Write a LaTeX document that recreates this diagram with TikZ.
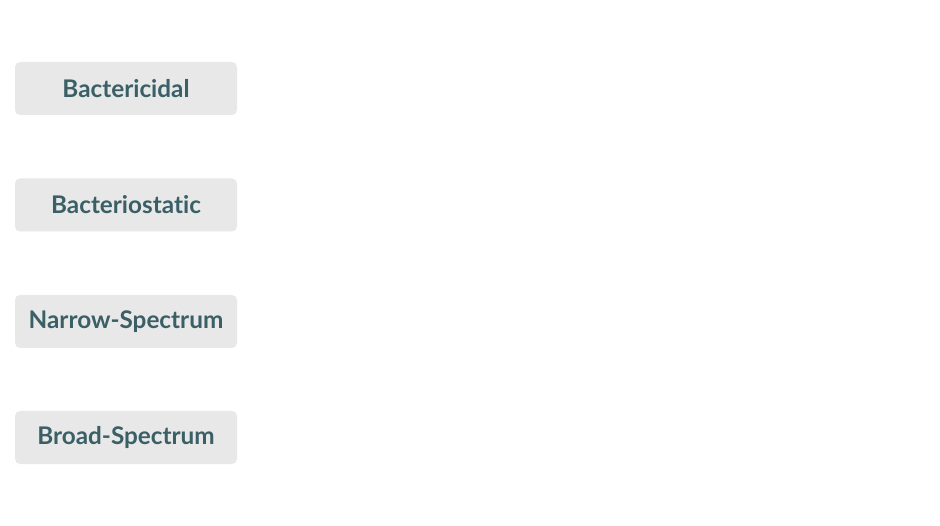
\documentclass[tikz,border=0pt]{standalone}
\usepackage{fontspec}
\setmainfont{Lato}[Ligatures={NoCommon,NoRequired,TeX}]
\definecolor{boxfill}{HTML}{E8E8E8}
\definecolor{boxtext}{HTML}{3A5F66}
\begin{document}
\begin{tikzpicture}[x=1pt,y=-1pt,
  catbox/.style={fill=boxfill, draw=none, rounded corners=5pt, minimum width=222pt, minimum height=53pt, inner sep=0pt, text=boxtext, font=\fontsize{24.3}{28}\selectfont\bfseries}]
\useasboundingbox (0,0) rectangle (940,526);
\fill[white] (0,0) rectangle (940,526);
\node[catbox] (bactericidal) at (126,88.5) {Bactericidal};
\node[catbox] (bacteriostatic) at (126,205) {Bacteriostatic};
\node[catbox] (narrow) at (126,321.5) {Narrow-Spectrum};
\node[catbox] (broad) at (126,437.5) {Broad-Spectrum};
\end{tikzpicture}
\end{document}
